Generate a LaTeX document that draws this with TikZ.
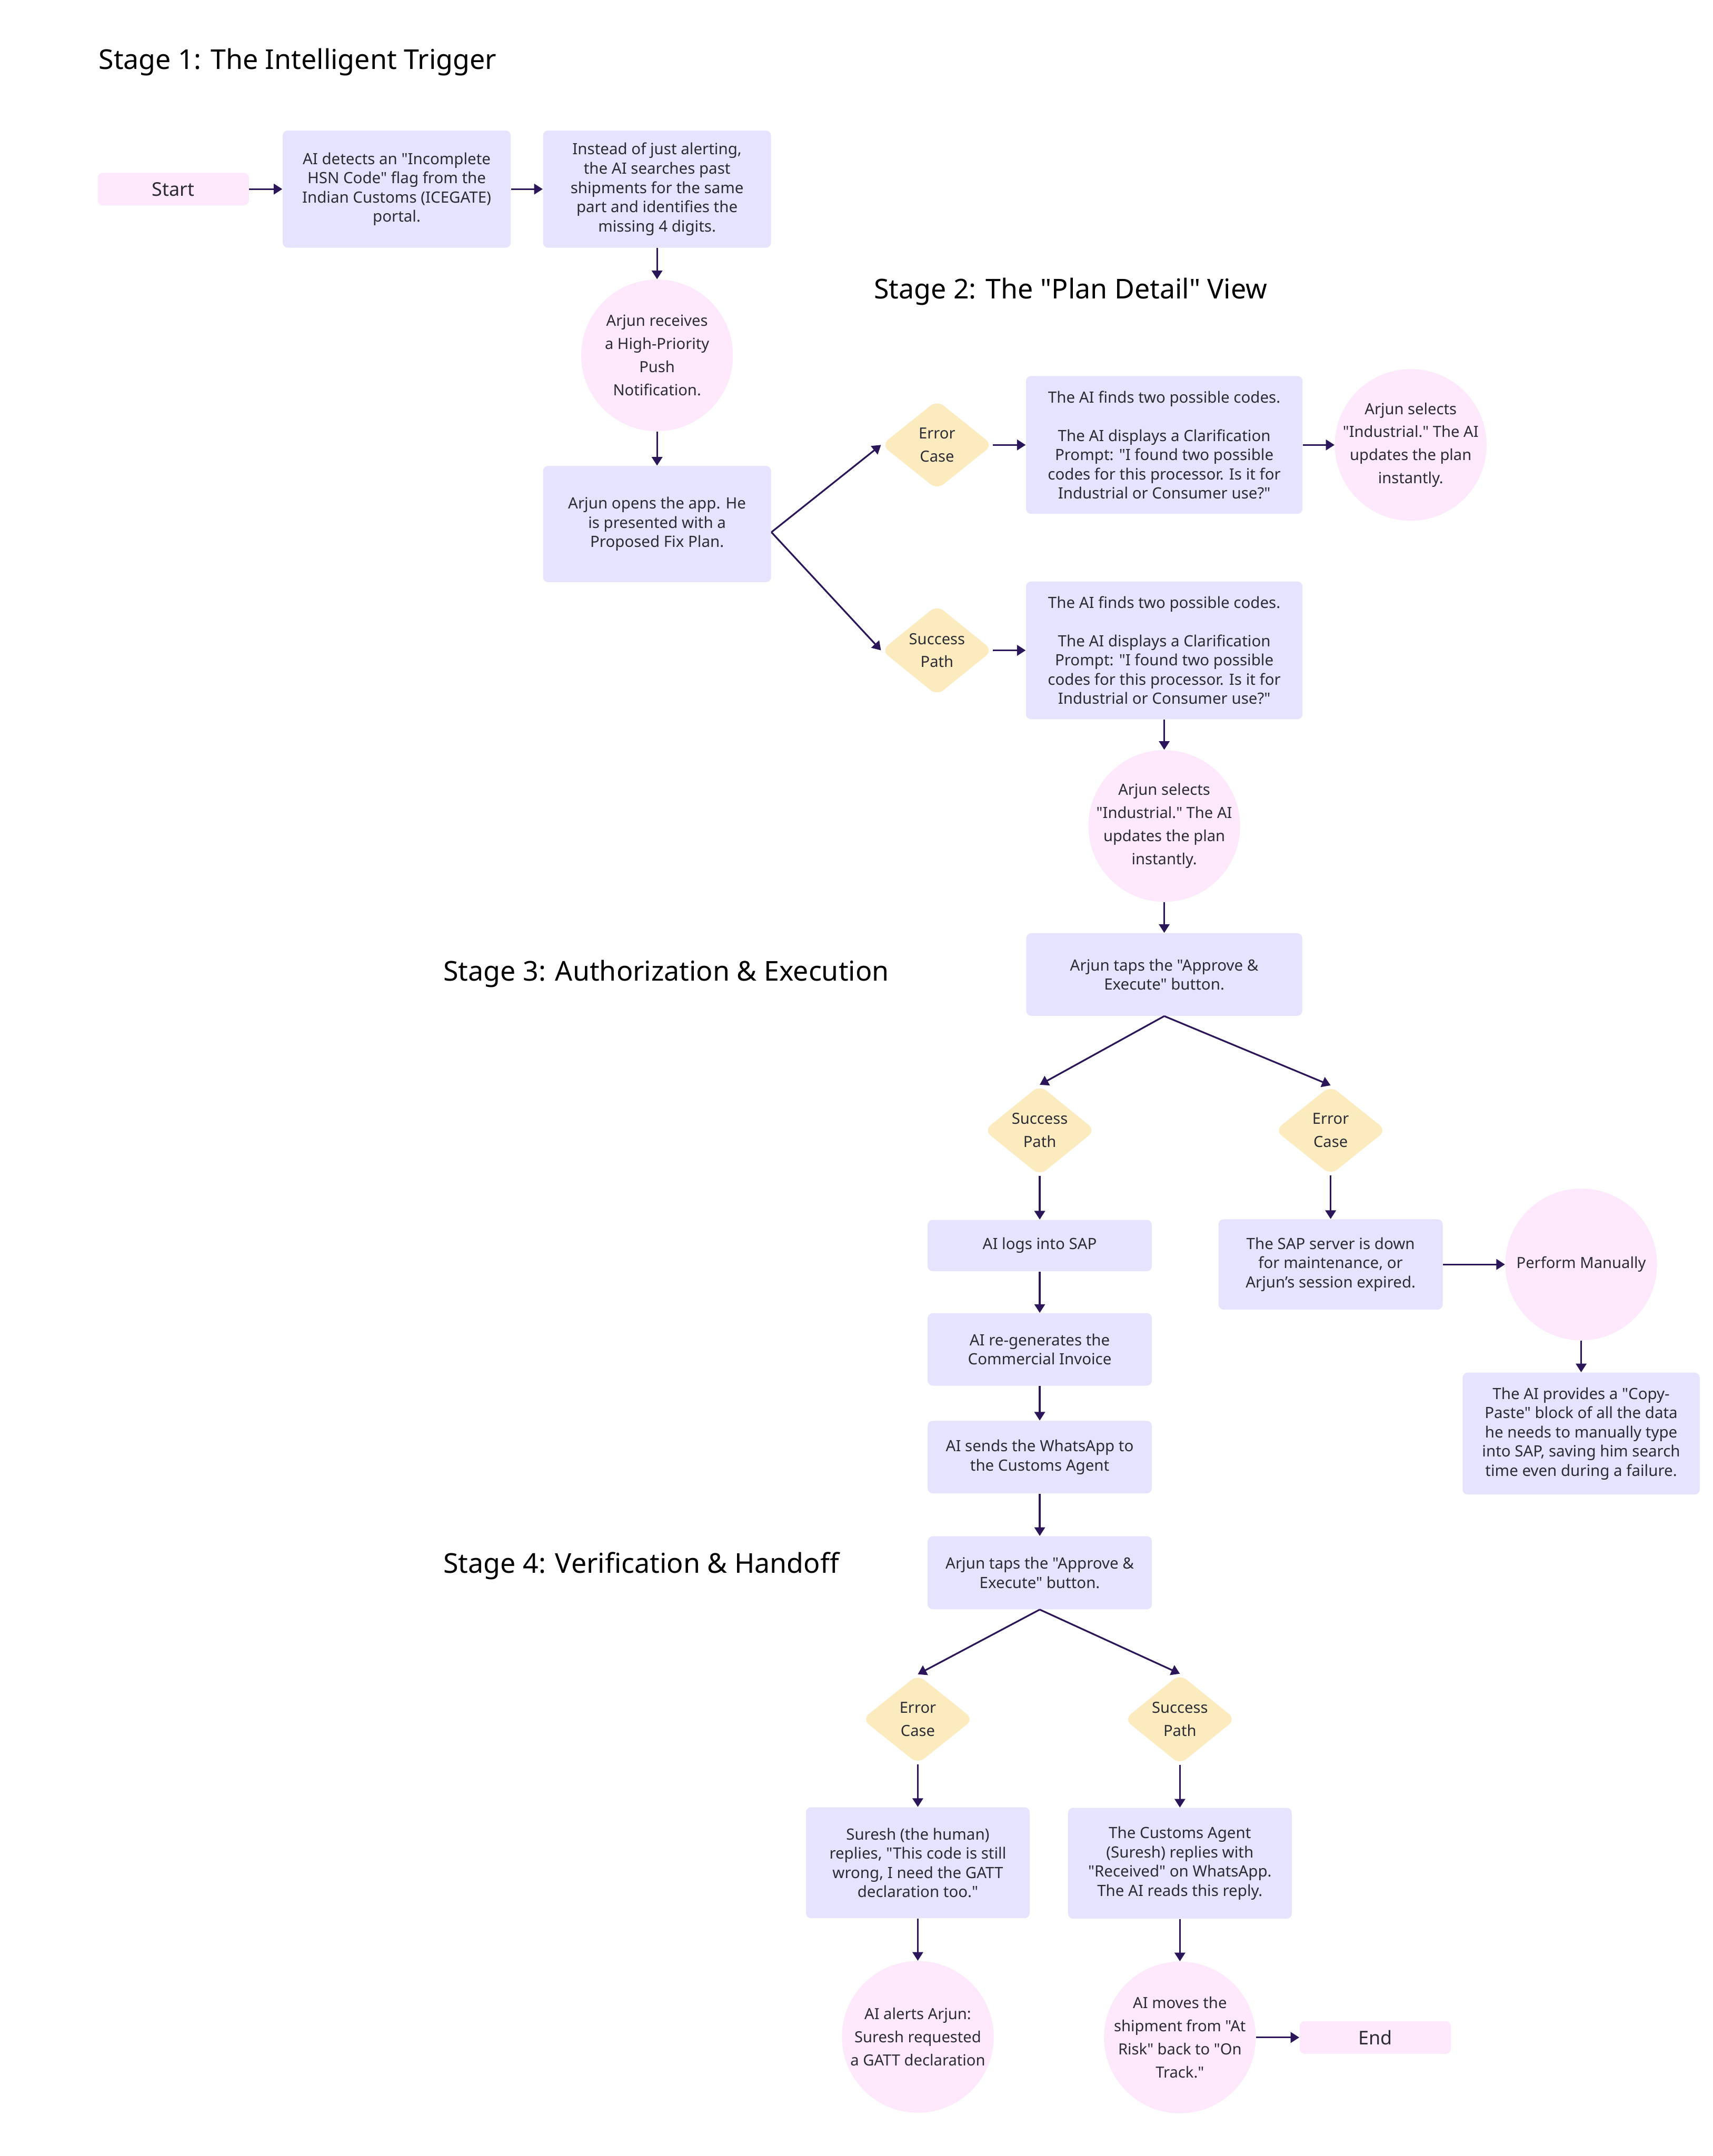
\documentclass[tikz,border=0pt]{standalone}
\usepackage{fontspec}
\setmainfont{Noto Sans}[Ligatures=TeXOff]
\usepackage{xcolor}
\usepackage{tikz}
\usetikzlibrary{arrows.meta, positioning, shapes.geometric}
\definecolor{cBox}{HTML}{E5E3FE}
\definecolor{cPink}{HTML}{FDE8FC}
\definecolor{cGold}{HTML}{FDEBC0}
\definecolor{cLink}{HTML}{2A1659}
\definecolor{cInk}{HTML}{2B2B33}
\newcommand{\boxsize}{\fontsize{9.2}{11.4}\selectfont}
\newcommand{\roundsize}{\fontsize{9.1}{13.7}\selectfont}
\tikzset{
  stepbox/.style={rectangle, rounded corners=3pt, fill=cBox, text=cInk,
    align=center, font=\boxsize, inner sep=0pt},
  bubble/.style={circle, fill=cPink, text=cInk, align=center, font=\roundsize,
    inner sep=-6pt, minimum size=3.16cm},
  choice/.style={diamond, rounded corners=5pt, fill=cGold, text=cInk, align=center,
    font=\roundsize, inner sep=0pt, minimum width=2.32cm, minimum height=1.86cm},
  term/.style={rectangle, rounded corners=3pt, fill=cPink, text=cInk,
    font=\fontsize{11.2}{13}\selectfont, minimum width=3.15cm, minimum height=0.68cm},
  stage/.style={anchor=west, inner sep=0pt, font=\fontsize{16.2}{19}\selectfont, text=black},
  flow/.style={-{Triangle[length=1.8mm, width=2.2mm]}, draw=cLink, line width=1pt},
}

\begin{document}
\begin{tikzpicture}[x=1cm, y=1cm]
\path[use as bounding box, fill=white] (0,0) rectangle (35.68,-44.92);
% stage 1: trigger
\node[stage] (t1) at (2.05,-1.29) {Stage 1: The Intelligent Trigger};
\node[term] (start) at (3.61,-3.94) {Start};
\node[stepbox, right=0.69cm of start, minimum width=4.75cm, minimum height=2.44cm] (detect) {AI detects an "Incomplete\\ HSN Code" flag from the\\ Indian Customs (ICEGATE)\\ portal.};
\node[stepbox, right=0.66cm of detect, minimum width=4.75cm, minimum height=2.44cm] (search) {Instead of just alerting,\\ the AI searches past\\ shipments for the same\\ part and identifies the\\ missing 4 digits.};
\node[bubble, below=0.65cm of search] (push) {Arjun receives\\ a High-Priority\\ Push\\ Notification.};
\node[stepbox, below=0.71cm of push, minimum width=4.75cm, minimum height=2.42cm] (open) {Arjun opens the app. He\\ is presented with a\\ Proposed Fix Plan.};
% stage 2: plan detail
\node[stage] (t2) at (18.20,-6.08) {Stage 2: The "Plan Detail" View};
\node[choice] (err2) at (19.52,-9.27) {Error\\ Case};
\node[stepbox, right=0.68cm of err2, minimum width=5.76cm, minimum height=2.87cm] (codes1) {The AI finds two possible codes.\\[11.4pt] The AI displays a Clarification\\ Prompt: "I found two possible\\ codes for this processor. Is it for\\ Industrial or Consumer use?"};
\node[bubble, right=0.66cm of codes1] (sel1) {Arjun selects\\ "Industrial." The AI\\ updates the plan\\ instantly.};
\node[choice] (ok2) at (19.52,-13.55) {Success\\ Path};
\node[stepbox, right=0.68cm of ok2, minimum width=5.76cm, minimum height=2.87cm] (codes2) {The AI finds two possible codes.\\[11.4pt] The AI displays a Clarification\\ Prompt: "I found two possible\\ codes for this processor. Is it for\\ Industrial or Consumer use?"};
\node[bubble, below=0.63cm of codes2] (sel2) {Arjun selects\\ "Industrial." The AI\\ updates the plan\\ instantly.};
\node[stepbox, below=0.64cm of sel2, minimum width=5.75cm, minimum height=1.72cm] (approve) {Arjun taps the "Approve \&\\ Execute" button.};
% stage 3: authorization
\node[stage] (t3) at (9.23,-20.29) {Stage 3: Authorization \& Execution};
\node[choice] (ok3) at (21.66,-23.55) {Success\\ Path};
\node[choice] (err3) at (27.72,-23.55) {Error\\ Case};
\node[stepbox, below=0.91cm of ok3, minimum width=4.67cm, minimum height=1.07cm] (sap) {AI logs into SAP};
\node[stepbox, below=0.86cm of sap, minimum width=4.67cm, minimum height=1.51cm] (invoice) {AI re-generates the\\ Commercial Invoice};
\node[stepbox, below=0.72cm of invoice, minimum width=4.67cm, minimum height=1.51cm] (whatsapp) {AI sends the WhatsApp to\\ the Customs Agent};
\node[stepbox, below=0.88cm of whatsapp, minimum width=4.67cm, minimum height=1.52cm] (approve2) {Arjun taps the "Approve \&\\ Execute" button.};
\node[stepbox, below=0.91cm of err3, minimum width=4.67cm, minimum height=1.88cm] (down) {The SAP server is down\\ for maintenance, or\\ Arjun’s session expired.};
\node[bubble, right=1.29cm of down] (manual) {Perform Manually};
\node[stepbox, below=0.66cm of manual, minimum width=4.94cm, minimum height=2.54cm] (copy) {The AI provides a "Copy-\\ Paste" block of all the data\\ he needs to manually type\\ into SAP, saving him search\\ time even during a failure.};
% stage 4: verification
\node[stage] (t4) at (9.23,-32.62) {Stage 4: Verification \& Handoff};
\node[choice] (err4) at (19.12,-35.82) {Error\\ Case};
\node[choice] (ok4) at (24.58,-35.82) {Success\\ Path};
\node[stepbox, below=0.89cm of err4, minimum width=4.66cm, minimum height=2.31cm] (human) {Suresh (the human)\\ replies, "This code is still\\ wrong, I need the GATT\\ declaration too."};
\node[bubble, below=0.88cm of human] (alert) {AI alerts Arjun:\\ Suresh requested\\ a GATT declaration};
\node[stepbox, below=0.89cm of ok4, minimum width=4.66cm, minimum height=2.31cm] (received) {The Customs Agent\\ (Suresh) replies with\\ "Received" on WhatsApp.\\ The AI reads this reply.};
\node[bubble, below=0.88cm of received] (ontrack) {AI moves the\\ shipment from "At\\ Risk" back to "On\\ Track."};
\node[term, right=0.9cm of ontrack] (end) {End};
% connectors
\draw[flow] (start) -- (detect);
\draw[flow] (detect) -- (search);
\draw[flow] (search) -- (push);
\draw[flow] (push) -- (open);
\draw[flow] ([yshift=-1.7mm]open.east) -- (err2.west);
\draw[flow] ([yshift=-1.7mm]open.east) -- (ok2.west);
\draw[flow] (err2) -- (codes1);
\draw[flow] (codes1) -- (sel1);
\draw[flow] (ok2) -- (codes2);
\draw[flow] (codes2) -- (sel2);
\draw[flow] (sel2) -- (approve);
\draw[flow] (approve.south) -- (ok3.north);
\draw[flow] (approve.south) -- (err3.north);
\draw[flow] (ok3) -- (sap);
\draw[flow] (sap) -- (invoice);
\draw[flow] (invoice) -- (whatsapp);
\draw[flow] (whatsapp) -- (approve2);
\draw[flow] (err3) -- (down);
\draw[flow] (down) -- (manual);
\draw[flow] (manual) -- (copy);
\draw[flow] (approve2.south) -- (err4.north);
\draw[flow] (approve2.south) -- (ok4.north);
\draw[flow] (err4) -- (human);
\draw[flow] (human) -- (alert);
\draw[flow] (ok4) -- (received);
\draw[flow] (received) -- (ontrack);
\draw[flow] (ontrack) -- (end);
\end{tikzpicture}
\end{document}
